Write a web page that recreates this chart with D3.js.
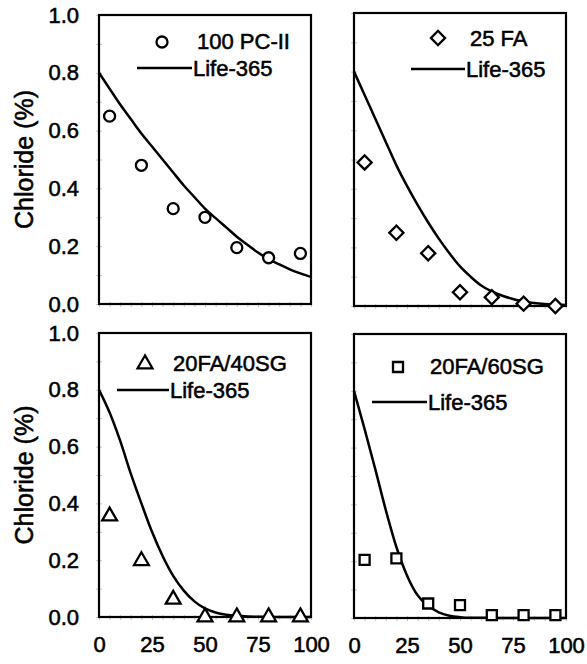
<!DOCTYPE html>
<html>
<head>
<meta charset="utf-8">
<script src="https://cdn.jsdelivr.net/npm/d3@7"></script>
<style>
  body { margin: 0; background: #fff; }
  text { font-family: "Liberation Sans", Arial, sans-serif; fill: #000; stroke: #000; stroke-width: 0.55px; }
</style>
</head>
<body>
<div id="chart"></div>
<script>
const width = 587;
const height = 664;

// depth (mm) of the measured points
const depths = [5, 20, 35, 50, 65, 80, 95];
const pc100 = [0.65, 0.48, 0.33, 0.30, 0.195, 0.16, 0.175];
const fa25 = [0.49, 0.25, 0.18, 0.047, 0.03, 0.008, 0.0];
const fa20sg40 = [0.355, 0.198, 0.062, 0.0, 0.0, 0.0, 0.0];
const fa20sg60 = [0.205, 0.21, 0.051, 0.045, 0.01, 0.01, 0.01];

// Life-365 prediction curves every 5 mm
const lifeDepths = [0, 5, 10, 15, 20, 25, 30, 35, 40, 45, 50, 55, 60, 65, 70, 75, 80, 85, 90, 95, 100];
const lifePc100 = [0.80, 0.745, 0.69, 0.64, 0.59, 0.545, 0.50, 0.455, 0.41, 0.37, 0.33, 0.297, 0.265, 0.233, 0.205, 0.178, 0.155, 0.137, 0.12, 0.106, 0.094];
const lifeFa25 = [0.80, 0.72, 0.64, 0.56, 0.48, 0.41, 0.345, 0.285, 0.23, 0.18, 0.135, 0.10, 0.07, 0.05, 0.035, 0.024, 0.015, 0.01, 0.007, 0.005, 0.003];
const lifeFa20sg40 = [0.80, 0.72, 0.62, 0.505, 0.40, 0.30, 0.215, 0.145, 0.093, 0.055, 0.03, 0.016, 0.008, 0.004, 0.002, 0.001, 0, 0, 0, 0, 0];
const lifeFa20sg60 = [0.80, 0.665, 0.525, 0.38, 0.25, 0.15, 0.08, 0.043, 0.02, 0.008, 0.003, 0.001, 0.001, 0, 0, 0, 0, 0, 0, 0, 0];

const xTicks = [0, 25, 50, 75, 100];
const yTicks = [0, 0.2, 0.4, 0.6, 0.8, 1.0];
const yTitle = "Chloride (%)";
const curveName = "Life-365";

const panels = [
  { name: "100 PC-II", marker: "circle", values: pc100, life: lifePc100,
    box: [99, 311, 304, 15], left: true, bottom: false,
    leg: { mx: 162, my: 42, tx: 197, ty: 49, lx0: 137, lx1: 192, ly: 68, ty2: 76 } },
  { name: "25 FA", marker: "diamond", values: fa25, life: lifeFa25,
    box: [354, 566, 306, 13], left: false, bottom: false,
    leg: { mx: 438, my: 38, tx: 470, ty: 46, lx0: 411, lx1: 465, ly: 69, ty2: 77 } },
  { name: "20FA/40SG", marker: "triangle", values: fa20sg40, life: lifeFa20sg40,
    box: [99, 311, 617, 333], left: true, bottom: true,
    leg: { mx: 145, my: 364, tx: 173, ty: 371, lx0: 117, lx1: 169, ly: 390, ty2: 398 } },
  { name: "20FA/60SG", marker: "square", values: fa20sg60, life: lifeFa20sg60,
    box: [354, 566, 618, 334], left: false, bottom: true,
    leg: { mx: 398, my: 367, tx: 430, ty: 374, lx0: 372, lx1: 427, ly: 402, ty2: 410 } }
];

const svg = d3.select("#chart").append("svg")
  .attr("width", width)
  .attr("height", height);

function drawMarker(g, type, x, y) {
  let sel;
  if (type === "circle") {
    sel = g.append("circle").attr("cx", x).attr("cy", y).attr("r", 5.5);
  } else if (type === "diamond") {
    sel = g.append("path")
      .attr("d", d3.symbol(d3.symbolSquare, 100)())
      .attr("transform", `translate(${x},${y}) rotate(45)`);
  } else if (type === "triangle") {
    sel = g.append("path")
      .attr("d", d3.symbol(d3.symbolTriangle, 95)())
      .attr("transform", `translate(${x},${y})`);
  } else {
    sel = g.append("path")
      .attr("d", d3.symbol(d3.symbolSquare, 100)())
      .attr("transform", `translate(${x},${y})`);
  }
  sel.attr("fill", "#fff").attr("stroke", "#000").attr("stroke-width", 2.3);
}

panels.forEach(p => {
  const [x0, x1, y0, y1] = p.box;
  const x = d3.scaleLinear().domain([0, 100]).range([x0, x1]);
  const y = d3.scaleLinear().domain([0, 1]).range([y0, y1]);
  const g = svg.append("g");

  // faint minor ticks
  g.append("g")
    .attr("transform", `translate(${x0 + 3},0)`)
    .call(d3.axisLeft(y).tickValues(d3.range(0, 1.01, 0.1)).tickSize(6).tickFormat(""))
    .call(a => a.select(".domain").remove())
    .call(a => a.selectAll("line").attr("stroke", "#c8c8c8"));
  g.append("g")
    .attr("transform", `translate(0,${y0 - 2})`)
    .call(d3.axisBottom(x).tickValues(d3.range(0, 101, 5)).tickSize(5).tickFormat(""))
    .call(a => a.select(".domain").remove())
    .call(a => a.selectAll("line").attr("stroke", "#c8c8c8"));

  if (p.left) {
    g.append("g")
      .attr("transform", `translate(${x0},0)`)
      .call(d3.axisLeft(y).tickValues(yTicks).tickSize(0).tickPadding(20).tickFormat(d3.format(".1f")))
      .call(a => a.select(".domain").remove())
      .call(a => a.selectAll("text")
        .attr("font-size", 22)
        .attr("font-family", "Liberation Sans, Arial, sans-serif")
        .attr("fill", "#000"));
    svg.append("text")
      .attr("transform", `translate(33,${(y0 + y1) / 2}) rotate(-90)`)
      .attr("text-anchor", "middle")
      .attr("font-size", 25)
      .text(yTitle);
  }
  if (p.bottom) {
    g.append("g")
      .attr("transform", `translate(0,${y0})`)
      .call(d3.axisBottom(x).tickValues(xTicks).tickSize(0).tickPadding(19).tickFormat(d3.format("d")))
      .call(a => a.select(".domain").remove())
      .call(a => a.selectAll("text")
        .attr("font-size", 22)
        .attr("font-family", "Liberation Sans, Arial, sans-serif")
        .attr("fill", "#000"));
  }

  // panel frame
  g.append("rect")
    .attr("x", x0).attr("y", y1)
    .attr("width", x1 - x0).attr("height", y0 - y1)
    .attr("fill", "none").attr("stroke", "#000").attr("stroke-width", 2.2);

  // Life-365 curve
  const line = d3.line()
    .x((d, i) => x(lifeDepths[i]))
    .y(d => y(d))
    .curve(d3.curveMonotoneX);
  g.append("path")
    .attr("d", line(p.life))
    .attr("fill", "none")
    .attr("stroke", "#000")
    .attr("stroke-width", 2.5);

  // measured points
  p.values.forEach((v, i) => drawMarker(g, p.marker, x(depths[i]), y(v)));

  // legend
  const L = p.leg;
  drawMarker(g, p.marker, L.mx, L.my);
  g.append("text").attr("x", L.tx).attr("y", L.ty).attr("font-size", 22).text(p.name);
  g.append("line")
    .attr("x1", L.lx0).attr("x2", L.lx1).attr("y1", L.ly).attr("y2", L.ly)
    .attr("stroke", "#000").attr("stroke-width", 2.5);
  g.append("text").attr("x", L.lx1 + 1).attr("y", L.ty2).attr("font-size", 22).text(curveName);
});
</script>
</body>
</html>
